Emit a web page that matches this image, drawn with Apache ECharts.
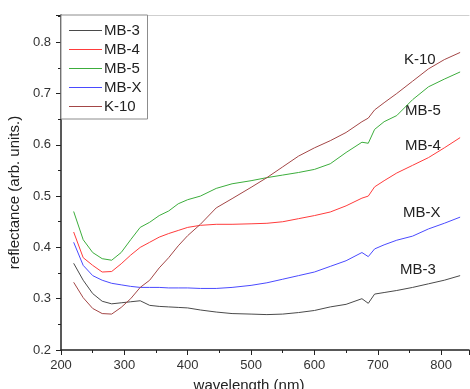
<!DOCTYPE html>
<html><head><meta charset="utf-8">
<script src="https://cdn.jsdelivr.net/npm/echarts@6/dist/echarts.min.js"></script>
<style>html,body{margin:0;padding:0;background:#fff}#c{width:470px;height:389px}</style>
</head><body><div id="c"></div>
<script>
const wavelengths = [220, 235, 250, 265, 280, 295, 310, 325, 340, 355, 370, 385, 400, 420, 445, 470, 500, 525, 550, 575, 600, 625, 650, 675, 685, 695, 710, 730, 755, 780, 805, 830];
const mb3 = [0.369, 0.336, 0.310, 0.295, 0.290, 0.292, 0.294, 0.296, 0.287, 0.285, 0.284, 0.283, 0.282, 0.278, 0.274, 0.271, 0.270, 0.269, 0.270, 0.273, 0.277, 0.284, 0.289, 0.300, 0.291, 0.309, 0.312, 0.316, 0.322, 0.329, 0.336, 0.345];
const mb4 = [0.430, 0.380, 0.365, 0.352, 0.353, 0.368, 0.385, 0.400, 0.410, 0.420, 0.427, 0.433, 0.439, 0.443, 0.445, 0.445, 0.446, 0.447, 0.450, 0.456, 0.462, 0.469, 0.481, 0.496, 0.500, 0.518, 0.530, 0.545, 0.560, 0.575, 0.594, 0.614];
const mb5 = [0.470, 0.415, 0.390, 0.378, 0.375, 0.390, 0.415, 0.439, 0.449, 0.462, 0.471, 0.485, 0.493, 0.500, 0.515, 0.524, 0.530, 0.536, 0.541, 0.546, 0.552, 0.563, 0.585, 0.605, 0.603, 0.630, 0.645, 0.657, 0.688, 0.713, 0.728, 0.742];
const mbx = [0.410, 0.365, 0.345, 0.336, 0.330, 0.327, 0.324, 0.322, 0.322, 0.322, 0.321, 0.321, 0.321, 0.320, 0.320, 0.322, 0.326, 0.331, 0.338, 0.345, 0.352, 0.363, 0.374, 0.390, 0.382, 0.397, 0.405, 0.414, 0.422, 0.436, 0.447, 0.459];
const k10 = [0.332, 0.302, 0.281, 0.271, 0.270, 0.283, 0.300, 0.322, 0.336, 0.360, 0.380, 0.403, 0.423, 0.445, 0.477, 0.495, 0.517, 0.536, 0.557, 0.578, 0.594, 0.608, 0.624, 0.645, 0.652, 0.668, 0.682, 0.700, 0.724, 0.748, 0.766, 0.780];
const seriesNames = ['MB-3', 'MB-4', 'MB-5', 'MB-X', 'K-10'];
const seriesValues = [mb3, mb4, mb5, mbx, k10];
const colors = ['#4a4a4a', '#ff3b3b', '#3cad3c', '#4a4aff', '#a34646'];

const chart = echarts.init(document.getElementById('c'));
const font = 'Liberation Sans, Arial, sans-serif';
const endLabels = [
  {t: 'K-10', x: 404, y: 60},
  {t: 'MB-5', x: 405, y: 111},
  {t: 'MB-4', x: 405, y: 146},
  {t: 'MB-X', x: 403, y: 213},
  {t: 'MB-3', x: 400, y: 270}
];
chart.setOption({
  animation: false,
  color: colors,
  grid: {left: 61, top: 15, right: 1, bottom: 39, outerBoundsMode: 'none', containLabel: false},
  legend: {
    orient: 'vertical', left: 61, top: 15,
    data: seriesNames,
    icon: 'rect', itemWidth: 33, itemHeight: 1.2, itemGap: 4,
    padding: [8, 6, 5, 8],
    borderColor: '#8c8c8c', borderWidth: 1, backgroundColor: '#fff',
    textStyle: {fontFamily: font, fontSize: 15, color: '#222', padding: [0, 0, 0, -3]}
  },
  xAxis: [{
    type: 'value', min: 200, max: 844, interval: 100,
    name: 'wavelength (nm)', nameLocation: 'middle', nameGap: 28,
    nameTextStyle: {fontFamily: font, fontSize: 15, color: '#222', padding: [0, 32, 0, 0]},
    axisLine: {show: true, lineStyle: {color: '#222', width: 1.5}},
    axisTick: {show: true, inside: false, length: 5, lineStyle: {color: '#222'}},
    minorTick: {show: true, splitNumber: 2, length: 3, lineStyle: {color: '#222'}},
    splitLine: {show: false},
    axisLabel: {fontFamily: font, fontSize: 13, color: '#333', margin: 9,
      formatter: v => (v % 100 === 0 ? String(v) : '')}
  }, {
    type: 'value', position: 'top', min: 200, max: 844,
    axisLine: {show: true, lineStyle: {color: '#cfcfcf', width: 1}},
    axisTick: {show: false}, axisLabel: {show: false}, splitLine: {show: false}
  }],
  yAxis: {
    type: 'value', min: 0.2, max: 0.853, interval: 0.1,
    name: 'reflectance (arb. units.)', nameLocation: 'middle', nameGap: 28,
    nameTextStyle: {fontFamily: font, fontSize: 15, color: '#222', padding: [0, 20, 0, 0]},
    axisLine: {show: true, lineStyle: {color: '#222', width: 1.5}},
    axisTick: {show: true, inside: false, length: 5, lineStyle: {color: '#222'}},
    minorTick: {show: true, splitNumber: 2, length: 3, lineStyle: {color: '#222'}},
    splitLine: {show: false},
    axisLabel: {fontFamily: font, fontSize: 13, color: '#333', margin: 10,
      formatter: v => (Math.abs(v * 10 - Math.round(v * 10)) < 1e-6 ? v.toFixed(1) : '')}
  },
  series: seriesNames.map((n, i) => ({
    name: n, type: 'line', xAxisIndex: 0, symbol: 'none',
    lineStyle: {width: 1, color: colors[i]},
    data: wavelengths.map((w, j) => [w, seriesValues[i][j]])
  })),
  graphic: endLabels.map(l => ({
    type: 'text', left: l.x, top: l.y - 8,
    style: {text: l.t, fontFamily: font, fontSize: 15, fill: '#222'}
  }))
});
</script>
</body></html>
